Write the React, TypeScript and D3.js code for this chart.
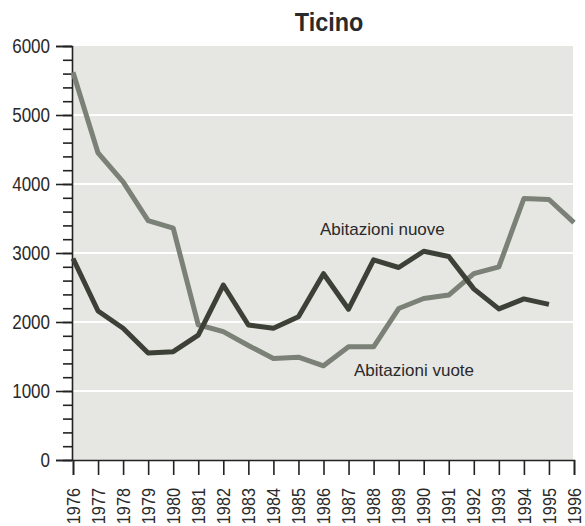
import { useEffect, useRef } from "react";
import * as d3 from "d3";

const years = d3.range(1976, 1997);
const yTicks = [0, 1000, 2000, 3000, 4000, 5000, 6000];

// Abitazioni vuote, 1976-1996
const vuote = [
  5620, 4450, 4030, 3470, 3360, 1960, 1860, 1660, 1470, 1490, 1365, 1640,
  1640, 2195, 2340, 2390, 2700, 2800, 3790, 3775, 3440,
];
// Abitazioni nuove, 1976-1995
const nuove = [
  2920, 2160, 1910, 1550, 1570, 1810, 2536, 1957, 1910, 2077, 2700, 2185,
  2900, 2790, 3025, 2950, 2480, 2190, 2335, 2255,
];

const FONT = "'Liberation Sans', Arial, sans-serif";
const INK = "#2a2a2a";

const LineChart = () => {
  const svgRef = useRef(null);
  const width = 585;
  const height = 526;
  const margin = { top: 46, right: 11, bottom: 66, left: 73 };

  useEffect(() => {
    const svg = d3.select(svgRef.current);
    svg.selectAll("*").remove();

    const x = d3
      .scaleLinear()
      .domain([1976, 1996])
      .range([margin.left, width - margin.right]);
    const y = d3
      .scaleLinear()
      .domain([0, 6000])
      .range([height - margin.bottom, margin.top]);

    // plot background
    svg
      .append("rect")
      .attr("x", x(1976))
      .attr("y", y(6000))
      .attr("width", 573 - x(1976))
      .attr("height", y(0) - y(6000))
      .attr("fill", "#e6e6e3");

    // white gridlines
    svg
      .selectAll(".grid")
      .data(yTicks.filter((d) => d > 0 && d < 6000))
      .enter()
      .append("line")
      .attr("x1", x(1976))
      .attr("x2", 573)
      .attr("y1", (d) => y(d))
      .attr("y2", (d) => y(d))
      .attr("stroke", "#fff")
      .attr("stroke-width", 2);

    // y axis with minor ticks
    const yAxis = svg
      .append("g")
      .attr("transform", `translate(${x(1976) - 1},0)`);
    yAxis
      .call(
        d3
          .axisLeft(y)
          .tickValues(d3.range(0, 6001, 200))
          .tickSize(9)
          .tickFormat(() => "")
      )
      .call((g) => g.select(".domain").remove());
    yAxis
      .append("g")
      .call(
        d3
          .axisLeft(y)
          .tickValues(yTicks)
          .tickSize(16)
          .tickPadding(6)
          .tickFormat(d3.format("d"))
      )
      .call((g) =>
        g
          .selectAll("text")
          .attr("font-size", 21)
          .attr("font-family", FONT)
          .attr("fill", INK)
          .attr("x", -22 / 0.81)
          .attr("transform", "scale(0.81,1)") // condensed look
      );
    yAxis.selectAll("line").attr("stroke", "#222").attr("stroke-width", 1.6);
    yAxis.selectAll(".domain").attr("stroke", "#222").attr("stroke-width", 1.6);

    // x axis
    const xAxis = svg
      .append("g")
      .attr("transform", `translate(0,${y(0)})`)
      .call(
        d3.axisBottom(x).tickValues(years).tickSize(15).tickFormat(d3.format("d"))
      );
    xAxis.selectAll("line").attr("stroke", "#222").attr("stroke-width", 1.6);
    xAxis.select(".domain").attr("stroke", "#222").attr("stroke-width", 1.6);
    xAxis
      .selectAll("text")
      .attr("font-size", 18.5)
      .attr("font-family", FONT)
      .attr("fill", INK)
      .attr("transform", "rotate(-90) scale(0.88,1)")
      .attr("text-anchor", "end")
      .attr("x", -28 / 0.88)
      .attr("y", 0)
      .attr("dy", "0.33em");

    const line = d3
      .line()
      .x((d, i) => x(1976 + i))
      .y((d) => y(d));

    svg
      .append("path")
      .datum(vuote)
      .attr("d", line)
      .attr("fill", "none")
      .attr("stroke", "#7b8176")
      .attr("stroke-width", 5)
      .attr("stroke-linejoin", "round");

    svg
      .append("path")
      .datum(nuove)
      .attr("d", line)
      .attr("fill", "none")
      .attr("stroke", "#3c4037")
      .attr("stroke-width", 5)
      .attr("stroke-linejoin", "round");

    // title and series labels
    svg
      .append("text")
      .attr("transform", "translate(329,31) scale(0.9,1)")
      .attr("text-anchor", "middle")
      .attr("font-family", FONT)
      .attr("font-weight", "bold")
      .attr("font-size", 26)
      .attr("fill", INK)
      .text("Ticino");

    svg
      .append("text")
      .attr("x", 320)
      .attr("y", 235)
      .attr("font-family", FONT)
      .attr("font-size", 17)
      .attr("fill", INK)
      .text("Abitazioni nuove");

    svg
      .append("text")
      .attr("x", 354)
      .attr("y", 376)
      .attr("font-family", FONT)
      .attr("font-size", 17)
      .attr("fill", INK)
      .text("Abitazioni vuote");
  }, []);

  return (
    <svg
      ref={svgRef}
      width={width}
      height={height}
      style={{ position: "absolute", left: 0, top: 0, background: "#fff" }}
    />
  );
};

export default function App() {
  return <LineChart />;
}
